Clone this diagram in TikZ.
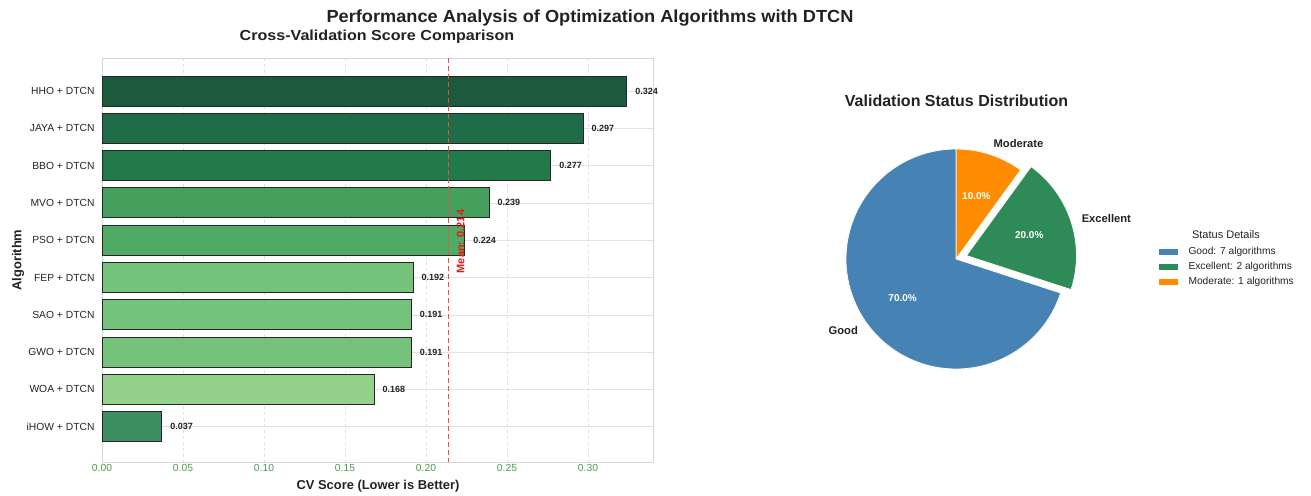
\documentclass[tikz,border=0pt]{standalone}
\usepackage{fontspec}
\usepackage{graphicx}
\setmainfont{Liberation Sans}
\usetikzlibrary{calc}
\definecolor{cHHO}{RGB}{27,90,60}
\definecolor{cJAYA}{RGB}{29,107,71}
\definecolor{cBBO}{RGB}{34,122,75}
\definecolor{cMVO}{RGB}{70,160,93}
\definecolor{cPSO}{RGB}{79,171,100}
\definecolor{cFEP}{RGB}{117,194,122}
\definecolor{cWOA}{RGB}{148,209,139}
\definecolor{ciHOW}{RGB}{61,143,98}
\definecolor{tickgreen}{RGB}{76,153,76}
\definecolor{gridgray}{RGB}{225,225,225}
\definecolor{framegray}{RGB}{215,215,215}
\definecolor{meanred}{RGB}{255,70,70}
\definecolor{meantxt}{RGB}{235,20,20}
\definecolor{txt}{RGB}{34,34,34}
\definecolor{cGood}{RGB}{70,130,180}
\definecolor{cExc}{RGB}{46,139,87}
\definecolor{cMod}{RGB}{255,140,0}
\begin{document}
\begin{tikzpicture}[x=1pt,y=1pt,
  bar/.style={draw=black!85, line width=1pt},
  cat/.style={anchor=east, font=\fontsize{10.3}{12}\selectfont, text=txt},
  val/.style={anchor=west, font=\bfseries\fontsize{9}{11}\selectfont, text=txt},
  tick/.style={font=\fontsize{10.3}{12}\selectfont, text=tickgreen},
  pct/.style={font=\bfseries\fontsize{10}{12}\selectfont, text=white},
  plab/.style={inner sep=0pt, font=\bfseries\fontsize{11.2}{13}\selectfont, text=txt},
  leg/.style={anchor=west, font=\fontsize{10.2}{12}\selectfont, text=txt},
  shadowc/.style={fill=black!45, opacity=0.6}]
\useasboundingbox (0,0) rectangle (1311,-495);
% titles
\node[font=\bfseries\fontsize{17.5}{20}\selectfont, text=txt] (title) at (590,-18) {\scalebox{1.04}[1]{Performance Analysis of Optimization Algorithms with DTCN}};
\node[font=\bfseries\fontsize{14.5}{17}\selectfont, text=txt] (sub) at (377,-37) {\scalebox{1.11}[1]{Cross-Validation Score Comparison}};
% grid
\foreach \v/\t [count=\k] in {0/0.00,0.05/0.05,0.10/0.10,0.15/0.15,0.20/0.20,0.25/0.25,0.30/0.30} {
  \draw[gridgray, dashed, line width=0.5pt] ({102+1620*\v},-58) -- ({102+1620*\v},-462);
  \node[tick] (tk\k) at ({102+1620*\v},-467.5) {\t};
}
\foreach \i in {0,...,9} {
  \draw[gridgray, line width=0.6pt] (102,{-91-37.3*\i}) -- (653,{-91-37.3*\i});
}
\draw[framegray, line width=0.8pt] (102,-58) rectangle (653,-462);
% bars
\foreach \n/\v/\c [count=\i from 0] in {HHO/0.324/cHHO, JAYA/0.297/cJAYA, BBO/0.277/cBBO, MVO/0.239/cMVO, PSO/0.224/cPSO, FEP/0.192/cFEP, SAO/0.191/cFEP, GWO/0.191/cFEP, WOA/0.168/cWOA, iHOW/0.037/ciHOW} {
  \pgfmathsetmacro{\yc}{-91-37.3*\i}
  \pgfmathsetmacro{\xe}{102+1620*\v}
  \draw[bar, fill=\c] (102,\yc+15) rectangle (\xe,\yc-15);
  \node[cat] (cat\i) at (98,\yc) {\n{} + DTCN};
  \node[val] (val\i) at (\xe+5,\yc) {\v};
}
% mean line
\coordinate (mtop) at (448.7,-58);
\coordinate (mbot) at (448.7,-462);
\draw[meanred, line width=1.3pt, dash pattern=on 5pt off 3pt] (mtop) -- (mbot);
\node[rotate=90, font=\bfseries\fontsize{11}{13}\selectfont, text=meantxt] (meanlab) at (460.5,-241.5) {Mean: 0.214};
% axis labels
\node[font=\bfseries\fontsize{12.9}{15}\selectfont, text=txt] (xlab) at (378,-486) {CV Score (Lower is Better)};
\node[rotate=90, font=\bfseries\fontsize{12.9}{15}\selectfont, text=txt] (ylab) at (18,-260) {Algorithm};
% pie
\node[font=\bfseries\fontsize{16}{19}\selectfont, text=txt] (ptitle) at (956.5,-101) {Validation Status Distribution};
\coordinate (C) at (956,-259);
\coordinate (E) at ($(C)+(18:11)$);
\begin{scope}[shift={(-2.2,-2.2)}]
  \fill[shadowc] (C) -- ++(90:110) arc[start angle=90,end angle=54,radius=110] -- cycle;
  \fill[shadowc] (E) -- ++(54:110) arc[start angle=54,end angle=-18,radius=110] -- cycle;
  \fill[shadowc] (C) -- ++(-18:110) arc[start angle=-18,end angle=-270,radius=110] -- cycle;
\end{scope}
\filldraw[fill=cMod, draw=white, line width=0.8pt] (C) -- ++(90:110) arc[start angle=90,end angle=54,radius=110] -- cycle;
\filldraw[fill=cExc, draw=white, line width=0.8pt] (E) -- ++(54:110) arc[start angle=54,end angle=-18,radius=110] -- cycle;
\filldraw[fill=cGood, draw=white, line width=0.8pt] (C) -- ++(-18:110) arc[start angle=-18,end angle=-270,radius=110] -- cycle;
\node[pct] (p10) at ($(C)+(72:66)$) {10.0\%};
\node[pct] (p20) at ($(E)+(18:66)$) {20.0\%};
\node[pct] (p70) at ($(C)+(-144:66)$) {70.0\%};
\node[plab, anchor=west] (lmod) at ($(C)+(72:121)$) {Moderate};
\node[plab, anchor=west] (lexc) at ($(E)+(18:121)$) {Excellent};
\node[plab, anchor=east] (lgood) at ($(C)+(-144:121)$) {Good};
% legend
\node[font=\fontsize{11}{13}\selectfont, text=txt] (legt) at (1226,-235) {Status Details};
\fill[cGood] (1159,-249) rectangle (1178,-255);
\node[leg] (lg1) at (1185,-252) {Good: 7 algorithms};
\fill[cExc] (1159,-264) rectangle (1178,-270);
\node[leg] (lg2) at (1185,-267) {Excellent: 2 algorithms};
\fill[cMod] (1159,-279) rectangle (1178,-285);
\node[leg] (lg3) at (1185,-282) {Moderate: 1 algorithms};
\end{tikzpicture}
\end{document}
